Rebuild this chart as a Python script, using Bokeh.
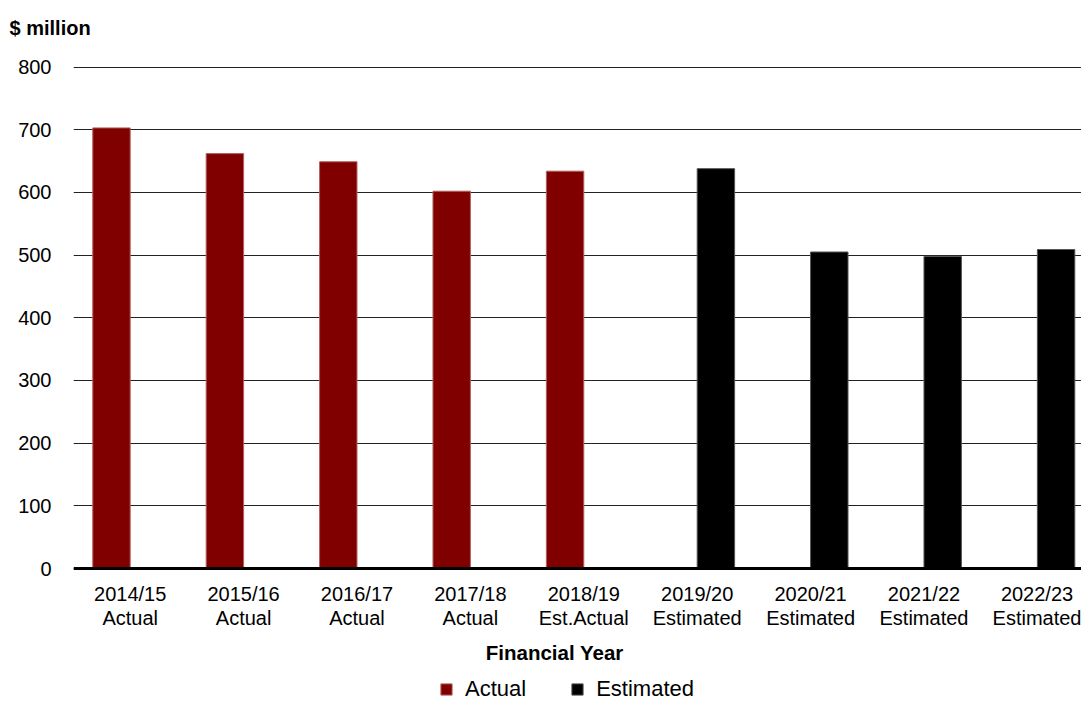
from bokeh.plotting import figure
from bokeh.models import FixedTicker, Legend, LegendItem, Range1d, ColumnDataSource
from bokeh.embed import file_html
from bokeh.resources import INLINE

years = ["2014/15", "2015/16", "2016/17", "2017/18", "2018/19",
         "2019/20", "2020/21", "2021/22", "2022/23"]
status = ["Actual", "Actual", "Actual", "Actual", "Est.Actual",
          "Estimated", "Estimated", "Estimated", "Estimated"]
actual_values = [703, 662, 649, 602, 634]
estimated_values = [638, 505, 498, 509]
y_ticks = [0, 100, 200, 300, 400, 500, 600, 700, 800]

RED = "#800000"
BLACK = "#000000"
FONT = "Liberation Sans"
BAR_W = 0.33

centers = [i + 0.5 for i in range(len(years))]
actual_src = ColumnDataSource(dict(
    x=[c - BAR_W / 2 for c in centers[:len(actual_values)]],
    top=actual_values))
est_src = ColumnDataSource(dict(
    x=[c + BAR_W / 2 for c in centers[len(actual_values):]],
    top=estimated_values))

# frame extends below zero so the legend can sit inside it; the x axis is pinned at y=0
p = figure(frame_width=1008, frame_height=637, output_backend="svg", toolbar_location=None,
           x_range=Range1d(0, 8.889), y_range=Range1d(-215.4, 801),
           min_border_left=73, min_border_right=0, min_border_top=66,
           min_border_bottom=0)
p.outline_line_color = None
p.background_fill_color = "white"

p.title.text = "$ million\n"
p.title.align = "left"
p.title.vertical_align = "top"
p.title.offset = -64
p.title.standoff = 8
p.title.text_font = FONT
p.title.text_font_size = "20px"
p.title.text_font_style = "bold"
p.title.text_color = BLACK

r1 = p.vbar(x="x", top="top", width=BAR_W, bottom=0, source=actual_src,
            fill_color=RED, line_color="#b06060", line_width=1)
r2 = p.vbar(x="x", top="top", width=BAR_W, bottom=0, source=est_src,
            fill_color=BLACK, line_color="#555555", line_width=1)

# axes
p.xaxis.fixed_location = 0
p.xaxis.ticker = FixedTicker(ticks=centers)
p.xaxis.major_label_overrides = {c: f"{y}\n{s}" for c, y, s in zip(centers, years, status)}
p.xaxis.axis_line_width = 3
p.xaxis.axis_line_color = BLACK
p.xaxis.major_tick_in = 0
p.xaxis.major_tick_out = 0
p.xaxis.minor_tick_line_color = None
p.xaxis.major_label_standoff = 14
p.xaxis.major_label_text_font = FONT
p.xaxis.major_label_text_font_size = "20px"
p.xaxis.major_label_text_line_height = 1.1
p.xaxis.major_label_text_color = BLACK
p.xaxis.axis_label = "Financial Year" + "\u00a0" * 8
p.xaxis.axis_label_text_font = FONT
p.xaxis.axis_label_text_font_size = "20.5px"
p.xaxis.axis_label_text_font_style = "bold"
p.xaxis.axis_label_text_color = BLACK
p.xaxis.axis_label_standoff = 9

p.yaxis.ticker = FixedTicker(ticks=y_ticks)
p.yaxis.axis_line_color = None
p.yaxis.major_tick_in = 0
p.yaxis.major_tick_out = 0
p.yaxis.minor_tick_line_color = None
p.yaxis.major_label_standoff = 22
p.yaxis.major_label_text_font = FONT
p.yaxis.major_label_text_font_size = "20px"
p.yaxis.major_label_text_color = BLACK

p.xgrid.grid_line_color = None
p.ygrid.grid_line_color = "#222222"
p.ygrid.grid_line_width = 1

legend = Legend(items=[LegendItem(label="Actual", renderers=[r1]),
                       LegendItem(label="Estimated", renderers=[r2])],
                orientation="horizontal", location=(366, 1),
                glyph_width=14, glyph_height=14, label_standoff=12, spacing=44,
                padding=0, margin=0, border_line_color=None,
                background_fill_alpha=0, label_text_font=FONT,
                label_text_font_size="22px", label_text_color=BLACK)
p.add_layout(legend, "center")

open("out.html", "w").write(file_html(p, INLINE))
